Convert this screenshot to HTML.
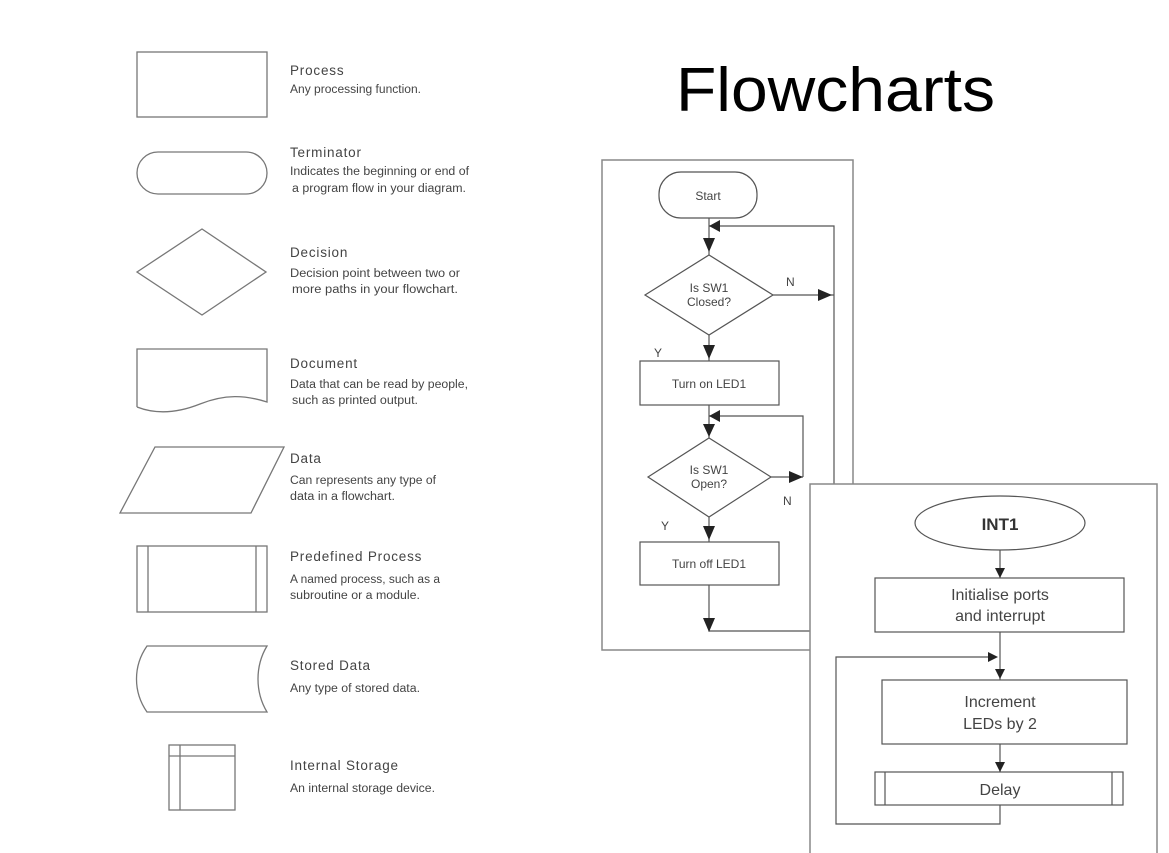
<!DOCTYPE html>
<html><head><meta charset="utf-8"><style>
html,body{margin:0;padding:0;background:#fff;}
svg{display:block;}
.t{font-family:"Liberation Sans",sans-serif;fill:#444;font-size:13.5px;letter-spacing:0.8px;}
.d{font-family:"Liberation Sans",sans-serif;fill:#444;font-size:11.5px;}
.f{font-family:"Liberation Sans",sans-serif;fill:#444;font-size:12px;}
.s{fill:none;stroke:#777;stroke-width:1.3;}
.k{fill:none;stroke:#555;stroke-width:1.2;}
</style></head><body>
<svg width="1169" height="853" viewBox="0 0 1169 853" xmlns="http://www.w3.org/2000/svg">
<rect width="1169" height="853" fill="#fff"/>
<rect class="s" x="137" y="52" width="130" height="65"/>
<rect class="s" x="137" y="152" width="130" height="42" rx="21"/>
<polygon class="s" points="137,272 202,229 266,272 202,315"/>
<path class="s" d="M137,407 L137,349 L267,349 L267,402 C245,395 225,394 200,404 C175,414 155,414 137,407"/>
<polygon class="s" points="155,447 284,447 251,513 120,513"/>
<rect class="s" x="137" y="546" width="130" height="66"/>
<line class="s" x1="148" y1="546" x2="148" y2="612"/><line class="s" x1="256" y1="546" x2="256" y2="612"/>
<path class="s" d="M147,646 L267,646 C255,666 255,692 267,712 L147,712 C133,692 133,666 147,646Z"/>
<rect class="s" x="169" y="745" width="66" height="65"/>
<line class="s" x1="169" y1="756" x2="235" y2="756"/><line class="s" x1="180" y1="745" x2="180" y2="810"/>
<g lengthAdjust="spacingAndGlyphs">
<text class="t" x="290" y="75">Process</text>
<text class="d" x="290" y="93" textLength="131" lengthAdjust="spacingAndGlyphs">Any processing function.</text>
<text class="t" x="290" y="157">Terminator</text>
<text class="d" x="290" y="175" textLength="179" lengthAdjust="spacingAndGlyphs">Indicates the beginning or end of</text>
<text class="d" x="292" y="192" textLength="174" lengthAdjust="spacingAndGlyphs">a program flow in your diagram.</text>
<text class="t" x="290" y="257">Decision</text>
<text class="d" x="290" y="277" textLength="170" lengthAdjust="spacingAndGlyphs">Decision point between two or</text>
<text class="d" x="292" y="293" textLength="166" lengthAdjust="spacingAndGlyphs">more paths in your flowchart.</text>
<text class="t" x="290" y="368">Document</text>
<text class="d" x="290" y="388" textLength="178" lengthAdjust="spacingAndGlyphs">Data that can be read by people,</text>
<text class="d" x="292" y="404" textLength="126" lengthAdjust="spacingAndGlyphs">such as printed output.</text>
<text class="t" x="290" y="463">Data</text>
<text class="d" x="290" y="484" textLength="146" lengthAdjust="spacingAndGlyphs">Can represents any type of</text>
<text class="d" x="290" y="500" textLength="105" lengthAdjust="spacingAndGlyphs">data in a flowchart.</text>
<text class="t" x="290" y="561">Predefined Process</text>
<text class="d" x="290" y="583" textLength="150" lengthAdjust="spacingAndGlyphs">A named process, such as a</text>
<text class="d" x="290" y="599" textLength="130" lengthAdjust="spacingAndGlyphs">subroutine or a module.</text>
<text class="t" x="290" y="670">Stored Data</text>
<text class="d" x="290" y="692" textLength="130" lengthAdjust="spacingAndGlyphs">Any type of stored data.</text>
<text class="t" x="290" y="770">Internal Storage</text>
<text class="d" x="290" y="792" textLength="145" lengthAdjust="spacingAndGlyphs">An internal storage device.</text>
</g>
<text x="676" y="111" font-family="Liberation Sans, sans-serif" font-size="62" fill="#000" textLength="319" lengthAdjust="spacingAndGlyphs">Flowcharts</text>
<rect x="602" y="160" width="251" height="490" fill="#fff" stroke="#888" stroke-width="1.5"/>
<g class="k">
<rect x="659" y="172" width="98" height="46" rx="22"/>
<line x1="709" y1="218" x2="709" y2="255"/>
<polyline points="709,226 834,226 834,640"/>
<polygon points="645,295 709,255 773,295 709,335"/>
<line x1="773" y1="295" x2="834" y2="295"/>
<line x1="709" y1="335" x2="709" y2="361"/>
<rect x="640" y="361" width="139" height="44"/>
<line x1="709" y1="405" x2="709" y2="438"/>
<polyline points="709,416 803,416 803,477"/>
<polygon points="648,477 709,438 771,477 709,517"/>
<line x1="771" y1="477" x2="803" y2="477"/>
<line x1="709" y1="517" x2="709" y2="542"/>
<rect x="640" y="542" width="139" height="43"/>
<polyline points="709,585 709,631 834,631"/>
</g>
<g fill="#222">
<polygon points="709,226 720,220 720,232"/>
<polygon points="703,238 715,238 709,252"/>
<polygon points="832,295 818,289 818,301"/>
<polygon points="703,345 715,345 709,359"/>
<polygon points="709,416 720,410 720,422"/>
<polygon points="703,424 715,424 709,437"/>
<polygon points="803,477 789,471 789,483"/>
<polygon points="703,526 715,526 709,540"/>
<polygon points="703,618 715,618 709,632"/>
</g>
<text class="f" x="708" y="200" text-anchor="middle" font-size="11">Start</text>
<text class="f" x="709" y="292" text-anchor="middle">Is SW1</text>
<text class="f" x="709" y="306" text-anchor="middle">Closed?</text>
<text class="f" x="786" y="286">N</text>
<text class="f" x="654" y="357">Y</text>
<text class="f" x="709" y="388" text-anchor="middle">Turn on LED1</text>
<text class="f" x="709" y="474" text-anchor="middle">Is SW1</text>
<text class="f" x="709" y="488" text-anchor="middle">Open?</text>
<text class="f" x="783" y="505">N</text>
<text class="f" x="661" y="530">Y</text>
<text class="f" x="709" y="568" text-anchor="middle">Turn off LED1</text>
<rect x="810" y="484" width="347" height="380" fill="#fff" stroke="#888" stroke-width="1.5"/>
<g class="k">
<ellipse cx="1000" cy="523" rx="85" ry="27"/>
<line x1="1000" y1="550" x2="1000" y2="578"/>
<rect x="875" y="578" width="249" height="54"/>
<line x1="1000" y1="632" x2="1000" y2="680"/>
<polyline points="1000,805 1000,824 836,824 836,657 993,657"/>
<rect x="882" y="680" width="245" height="64"/>
<line x1="1000" y1="744" x2="1000" y2="772"/>
<rect x="875" y="772" width="248" height="33"/>
<line x1="885" y1="772" x2="885" y2="805"/><line x1="1112" y1="772" x2="1112" y2="805"/>
</g>
<g fill="#222">
<polygon points="995,568 1005,568 1000,578"/>
<polygon points="995,669 1005,669 1000,679"/>
<polygon points="998,657 988,652 988,662"/>
<polygon points="995,762 1005,762 1000,772"/>
</g>
<text x="1000" y="530" text-anchor="middle" font-family="Liberation Sans, sans-serif" font-weight="bold" font-size="17" fill="#333">INT1</text>
<g font-family="Liberation Sans, sans-serif" font-size="16" fill="#444" text-anchor="middle">
<text x="1000" y="600">Initialise ports</text>
<text x="1000" y="621">and interrupt</text>
<text x="1000" y="707">Increment</text>
<text x="1000" y="729">LEDs by 2</text>
<text x="1000" y="795">Delay</text>
</g>
</svg>
</body></html>
